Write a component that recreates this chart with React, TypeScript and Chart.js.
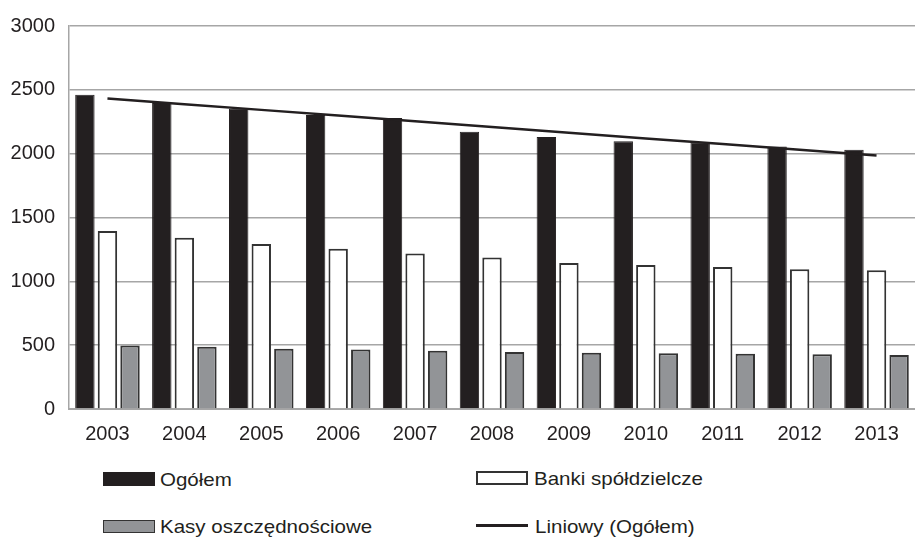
import React, { useEffect, useRef } from "react";
import { Chart, registerables } from "chart.js";

Chart.register(...registerables);

const years = ["2003", "2004", "2005", "2006", "2007", "2008", "2009", "2010", "2011", "2012", "2013"];
const ogolem = [2461, 2397, 2351, 2302, 2279, 2172, 2131, 2097, 2090, 2056, 2031];
const banki = [1395, 1341, 1292, 1256, 1218, 1187, 1144, 1128, 1113, 1095, 1087];
const kasy = [497, 487, 472, 467, 456, 446, 441, 436, 433, 428, 423];
const trend = [2433, 2388, 2343, 2299, 2254, 2209, 2164, 2119, 2075, 2030, 1985];
const yTicks = [0, 500, 1000, 1500, 2000, 2500, 3000];

const FONT = "'Liberation Sans', Arial, sans-serif";
const DARK = "#231f20";
const GRAY = "#929497";
const EDGE = "#333333";
const GRID = "#a6a6a6";

export default function App() {
  const ref = useRef<HTMLCanvasElement | null>(null);

  useEffect(() => {
    if (!ref.current) return;
    const chart = new Chart(ref.current, {
      type: "bar",
      data: {
        labels: years,
        datasets: [
          {
            type: "line",
            label: "Liniowy (Ogółem)",
            data: trend,
            borderColor: DARK,
            borderWidth: 2.5,
            pointRadius: 0,
            fill: false,
            order: 0,
          } as any,
          {
            label: "Ogółem",
            data: ogolem,
            backgroundColor: DARK,
            borderColor: DARK,
            borderWidth: 1,
            order: 1,
          },
          {
            label: "Banki spółdzielcze",
            data: banki,
            backgroundColor: "#ffffff",
            borderColor: EDGE,
            borderWidth: 2,
            order: 1,
          },
          {
            label: "Kasy oszczędnościowe",
            data: kasy,
            backgroundColor: GRAY,
            borderColor: EDGE,
            borderWidth: 2,
            order: 1,
          },
        ],
      },
      options: {
        responsive: false,
        animation: false,
        layout: { padding: { top: 21, right: 0, left: 0, bottom: 0 } },
        datasets: {
          bar: { categoryPercentage: 0.88, barPercentage: 0.86 },
        },
        plugins: {
          legend: { display: false },
          tooltip: { enabled: false },
        },
        scales: {
          x: {
            grid: { display: false, drawTicks: false },
            border: { display: true, color: GRID, width: 2 },
            ticks: {
              color: DARK,
              font: { family: FONT, size: 20 },
              padding: 13,
              maxRotation: 0,
              autoSkip: false,
            },
            afterFit: (s: any) => {
              s.height = 51;
            },
          },
          y: {
            min: 0,
            max: 3000,
            afterBuildTicks: (s: any) => {
              s.ticks = yTicks.map((v) => ({ value: v }));
            },
            grid: { color: GRID, lineWidth: 1.5, drawTicks: false },
            border: { display: true, color: GRID, width: 1.5 },
            ticks: {
              color: DARK,
              font: { family: FONT, size: 20 },
              padding: 14,
              callback: (v: any) => String(v),
            },
            afterFit: (s: any) => {
              s.width = 69;
            },
          },
        },
      },
    });
    return () => chart.destroy();
  }, []);

  const text: React.CSSProperties = {
    position: "absolute",
    fontFamily: FONT,
    fontSize: 19,
    lineHeight: "20px",
    color: DARK,
    whiteSpace: "nowrap",
    transform: "scaleX(1.08)",
    transformOrigin: "left center",
  };

  return (
    <div style={{ position: "absolute", left: 0, top: 0, width: 915, height: 537, background: "#fff", overflow: "hidden" }}>
      <canvas ref={ref} width={915} height={460} style={{ position: "absolute", left: 0, top: 0, width: 915, height: 460 }} />
      <div style={{ position: "absolute", left: 103, top: 472, width: 52, height: 14, background: DARK }} />
      <div style={{ ...text, left: 160, top: 470 }}>Ogółem</div>
      <div style={{ position: "absolute", left: 103, top: 520, width: 52, height: 13, background: GRAY, border: `1.5px solid ${EDGE}`, boxSizing: "border-box" }} />
      <div style={{ ...text, left: 160, top: 517 }}>Kasy oszczędnościowe</div>
      <div style={{ position: "absolute", left: 476, top: 471, width: 52, height: 14, background: "#fff", border: `2px solid ${EDGE}`, boxSizing: "border-box" }} />
      <div style={{ ...text, left: 534, top: 469 }}>Banki spółdzielcze</div>
      <div style={{ position: "absolute", left: 476, top: 524, width: 52, height: 3, background: DARK }} />
      <div style={{ ...text, left: 535, top: 517 }}>Liniowy (Ogółem)</div>
    </div>
  );
}
